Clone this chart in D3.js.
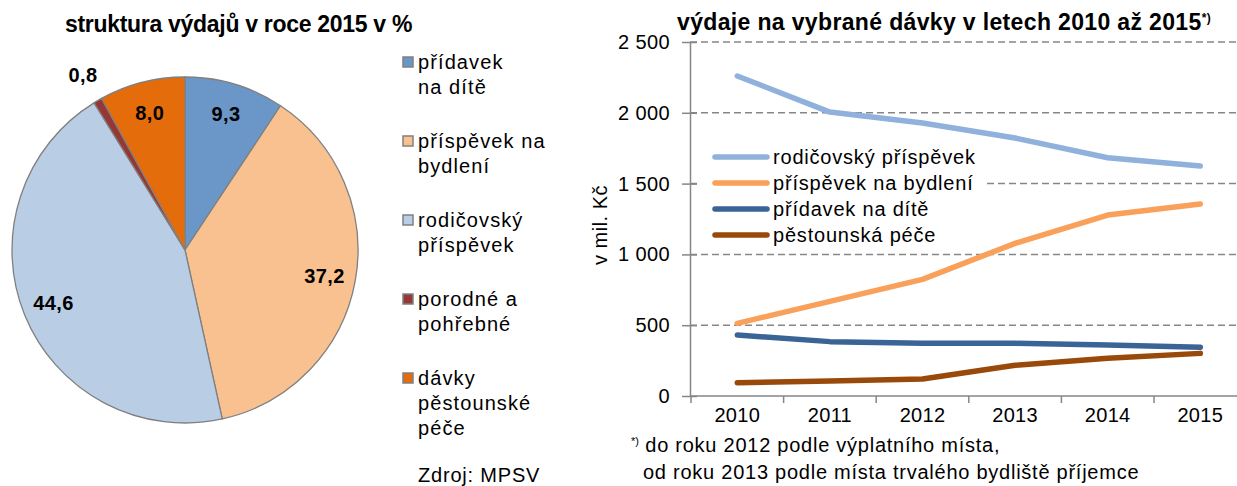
<!DOCTYPE html>
<html>
<head>
<meta charset="utf-8">
<script src="https://cdn.jsdelivr.net/npm/d3@7/dist/d3.min.js"></script>
<style>
  body { margin: 0; background: #fff; }
  svg { font-family: "Liberation Sans", Arial, sans-serif; }
</style>
</head>
<body>
<div id="main"></div>
<script>
// struktura výdajů 2015 v %
const pieCategories = ['přídavek\nna dítě', 'příspěvek na\nbydlení', 'rodičovský\npříspěvek', 'porodné a\npohřebné', 'dávky\npěstounské\npéče'];
const pieValues = [9.3, 37.2, 44.6, 0.8, 8.0];
const pieColors = ['#6b96c8', '#f9c18f', '#b9cde5', '#953735', '#e46c0a'];

// výdaje 2010–2015 v mil. Kč
const years = [2010, 2011, 2012, 2013, 2014, 2015];
const seriesNames = ['rodičovský příspěvek', 'příspěvek na bydlení', 'přídavek na dítě', 'pěstounská péče'];
const rodicovsky = [2260, 2005, 1928, 1822, 1683, 1624];
const bydleni = [513, 668, 824, 1078, 1278, 1356];
const pridavek = [431, 384, 372, 372, 360, 344];
const pestounska = [94, 106, 120, 217, 266, 301];
const lineColors = ['#8fb1db', '#f9a05a', '#3a6396', '#994909'];
const yTicks = [0, 500, 1000, 1500, 2000, 2500];

const cz = d3.formatLocale({ decimal: ',', thousands: '\u00a0', grouping: [3], currency: ['', ' Kč'] });
const fmtPct = cz.format('.1f');
const fmtNum = cz.format(',d');

const W = 1237, H = 486;
const svg = d3.select('#main').append('svg').attr('width', W).attr('height', H);

const bodyFont = 20, bodySpacing = 0.8;

// ---------- pie ----------
const cx = 185, cy = 250, r = 173;
const pie = d3.pie().sort(null).value(d => d);
const arcs = pie(pieValues);
const arc = d3.arc().innerRadius(0).outerRadius(r);
const labelArc = d3.arc().innerRadius(r * 0.82).outerRadius(r * 0.82);
const outArc = d3.arc().innerRadius(r * 1.17).outerRadius(r * 1.17);

svg.append('text')
    .attr('x', 65).attr('y', 32)
    .style('font-size', '23px').style('font-weight', 'bold').style('letter-spacing', '-0.3px')
    .text('struktura výdajů v roce 2015 v %');

const gp = svg.append('g').attr('transform', `translate(${cx},${cy})`);
gp.selectAll('path').data(arcs).enter().append('path')
    .attr('d', arc)
    .attr('fill', (d, i) => pieColors[i])
    .attr('stroke', '#808080').attr('stroke-width', 1.3);

gp.selectAll('text').data(arcs).enter().append('text')
    .attr('transform', d => `translate(${(d.data < 2 ? outArc : labelArc).centroid(d)})`)
    .attr('text-anchor', 'middle').attr('dy', '0.35em')
    .style('font-size', '20px').style('font-weight', 'bold').style('letter-spacing', '0.4px')
    .text(d => fmtPct(d.data));

// pie legend
const lg = svg.append('g').attr('transform', 'translate(403,57)');
const items = lg.selectAll('g').data(pieCategories).enter().append('g')
    .attr('transform', (d, i) => `translate(0,${i * 79})`);
items.append('rect').attr('width', 10).attr('height', 10)
    .attr('fill', (d, i) => pieColors[i]).attr('stroke', '#808080').attr('stroke-width', 1.5);
items.each(function (d) {
    d3.select(this).selectAll('text').data(d.split('\n')).enter().append('text')
        .attr('x', 15).attr('y', (t, j) => 5 + j * 25).attr('dy', '0.35em')
        .style('font-size', bodyFont + 'px').style('letter-spacing', '1.1px')
        .text(t => t);
});

svg.append('text').attr('x', 418).attr('y', 475).attr('dy', '0.35em')
    .style('font-size', bodyFont + 'px').style('letter-spacing', bodySpacing + 'px')
    .text('Zdroj: MPSV');

// ---------- line chart ----------
const x = d3.scaleBand().domain(years).range([691, 691 + 92.6 * 6]);
const y = d3.scaleLinear().domain([0, 2500]).range([396, 42]);

const t2 = svg.append('text')
    .attr('x', 677).attr('y', 30)
    .style('font-size', '23px').style('font-weight', 'bold').style('letter-spacing', '0.35px');
t2.append('tspan').text('výdaje na vybrané dávky v letech 2010 až 2015');
t2.append('tspan').attr('dy', -8).style('font-size', '12px').text('*)');

// gridlines
svg.append('g').selectAll('line').data(yTicks.filter(v => v > 0)).enter().append('line')
    .attr('x1', 690).attr('x2', W)
    .attr('y1', d => y(d)).attr('y2', d => y(d))
    .attr('stroke', '#868686').attr('stroke-width', 1.5).attr('stroke-dasharray', '7,4');

// y axis
const yAxis = svg.append('g').attr('transform', 'translate(690,0)')
    .call(d3.axisLeft(y).tickValues(yTicks).tickFormat(fmtNum).tickSize(8).tickSizeOuter(0));
yAxis.select('.domain').attr('stroke', '#868686').attr('stroke-width', 1.5);
yAxis.selectAll('.tick line').attr('stroke', '#868686').attr('stroke-width', 1.5).attr('x2', 7).attr('x1', -8);
yAxis.selectAll('.tick text').attr('x', -20)
    .style('font-size', bodyFont + 'px').style('letter-spacing', '0.4px')
    .style('font-family', '"Liberation Sans", Arial, sans-serif').attr('fill', '#000');

svg.append('text')
    .attr('transform', 'translate(600,225) rotate(-90)')
    .attr('text-anchor', 'middle').attr('dy', '0.35em')
    .style('font-size', bodyFont + 'px').style('letter-spacing', '0.5px')
    .text('v mil. Kč');

// x axis
svg.append('line').attr('x1', 690).attr('x2', W).attr('y1', 396).attr('y2', 396)
    .attr('stroke', '#868686').attr('stroke-width', 1.5);
svg.append('g').selectAll('line').data(years).enter().append('line')
    .attr('x1', d => x(d)).attr('x2', d => x(d)).attr('y1', 396).attr('y2', 403)
    .attr('stroke', '#868686').attr('stroke-width', 1.5);
svg.append('g').selectAll('text').data(years).enter().append('text')
    .attr('x', d => x(d) + x.bandwidth() / 2).attr('y', 415).attr('dy', '0.35em')
    .attr('text-anchor', 'middle')
    .style('font-size', bodyFont + 'px').style('letter-spacing', '0.3px')
    .text(d => d);

// lines
const series = [rodicovsky, bydleni, pridavek, pestounska];
const line = d3.line().x((d, i) => x(years[i]) + x.bandwidth() / 2).y(d => y(d));
svg.append('g').selectAll('path').data(series).enter().append('path')
    .attr('d', line)
    .attr('fill', 'none')
    .attr('stroke', (d, i) => lineColors[i]).attr('stroke-width', 5.5)
    .attr('stroke-linecap', 'round').attr('stroke-linejoin', 'round');

// line legend
const ll = svg.append('g');
ll.append('rect').attr('x', 698).attr('y', 143).attr('width', 286).attr('height', 104).attr('fill', '#fff');
const li = ll.selectAll('g').data(seriesNames).enter().append('g')
    .attr('transform', (d, i) => `translate(715,${157 + i * 26})`);
li.append('line').attr('x1', 0).attr('x2', 52)
    .attr('stroke', (d, i) => lineColors[i]).attr('stroke-width', 5.5).attr('stroke-linecap', 'round');
li.append('text').attr('x', 58).attr('dy', '0.35em')
    .style('font-size', bodyFont + 'px').style('letter-spacing', bodySpacing + 'px')
    .text(d => d);

// footnote
const fn = svg.append('g').style('font-size', bodyFont + 'px').style('letter-spacing', '0.75px');
const f1 = fn.append('text').attr('x', 631).attr('y', 452);
f1.append('tspan').attr('dy', -7).style('font-size', '11px').style('letter-spacing', '0px').text('*)');
f1.append('tspan').attr('dy', 7).text(' do roku 2012 podle výplatního místa,');
fn.append('text').attr('x', 643).attr('y', 479).text('od roku 2013 podle místa trvalého bydliště příjemce');
</script>
</body>
</html>
